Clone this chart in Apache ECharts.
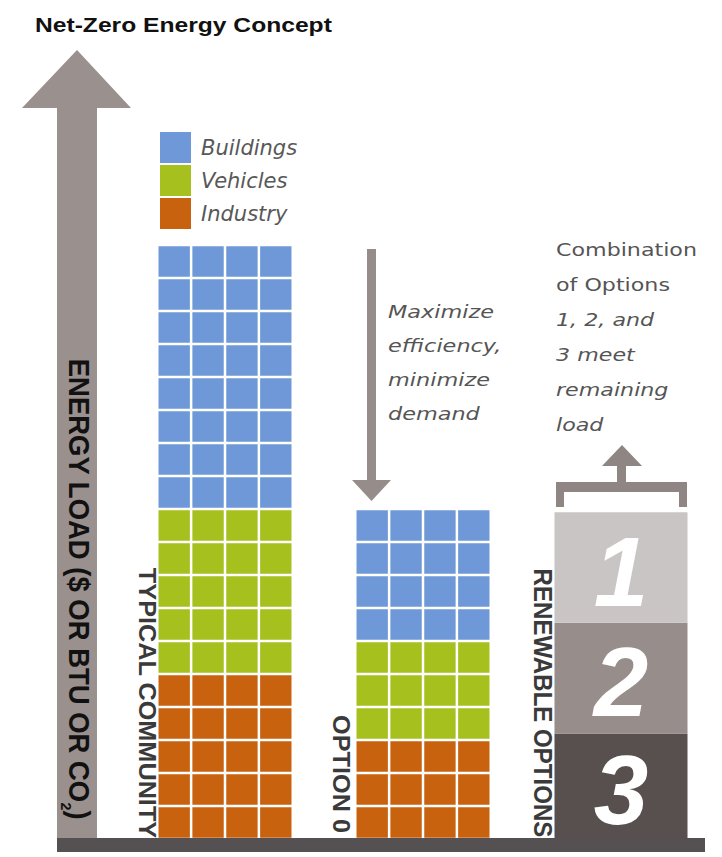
<!DOCTYPE html>
<html>
<head>
<meta charset="utf-8">
<script src="https://cdn.jsdelivr.net/npm/echarts@6/dist/echarts.min.js"></script>
<style>
  html, body { margin: 0; padding: 0; background: #ffffff; }
  #chart { width: 722px; height: 857px; }
</style>
</head>
<body>
<div id="chart"></div>
<script>
// Columns of the concept diagram and their energy load, in tile rows
const columns = ['Typical Community', 'Option 0', 'Renewable Options'];
const industry = [5, 3, 0];
const vehicles = [5, 3, 0];
const buildings = [8, 4, 0];

// Renewable supply stacked in the third column (bottom to top)
const renewableNames = ['3', '2', '1'];
const renewableValues = [3.2, 3.35, 3.35];

const sectorNames = ['Buildings', 'Vehicles', 'Industry'];

// ---- styling ----
const SECTOR_COLORS = { Buildings: '#6e98d7', Vehicles: '#a6c11e', Industry: '#c9620f' };
const RENEWABLE_COLORS = ['#57504f', '#978d8b', '#c9c5c4'];
const ARROW = '#9a908e';
const BAR_W = 133;
const COLS = 4;
const GAP = 2.5;
const SANS = '"Liberation Sans", "DejaVu Sans", sans-serif';
const WIDE = '"DejaVu Sans", "Liberation Sans", sans-serif';

const measureCtx = document.createElement('canvas').getContext('2d');
function textWidth(str, font) {
  measureCtx.font = font;
  return measureCtx.measureText(str).width;
}

// cumulative stacking of sector tiles
function stacked(values, below) {
  return columns.map((c, i) => {
    const lo = below.reduce((s, arr) => s + arr[i], 0);
    return [i, lo, lo + values[i]];
  }).filter(d => d[2] > d[1]);
}

function tiles(params, api) {
  const i = api.value(0), lo = api.value(1), hi = api.value(2);
  const cx = api.coord([i, 0])[0];
  const x0 = cx - BAR_W / 2;
  const cw = (BAR_W - GAP * (COLS - 1)) / COLS;
  const color = api.visual('color');
  const children = [];
  for (let r = lo; r < hi; r++) {
    const yb = api.coord([i, r])[1];
    const yt = api.coord([i, r + 1])[1];
    for (let c = 0; c < COLS; c++) {
      children.push({
        type: 'rect',
        shape: { x: x0 + c * (cw + GAP), y: yt + GAP / 2, width: cw, height: yb - yt - GAP },
        style: { fill: color }
      });
    }
  }
  return { type: 'group', children };
}

let acc = 0;
const renewableData = renewableValues.map(v => {
  const d = [2, acc, acc + v];
  acc += v;
  return d;
});

function blocks(params, api) {
  const i = api.value(0), lo = api.value(1), hi = api.value(2);
  const cx = api.coord([i, 0])[0];
  const yb = api.coord([i, lo])[1];
  const yt = api.coord([i, hi])[1];
  return {
    type: 'group',
    children: [
      { type: 'rect', shape: { x: cx - BAR_W / 2, y: yt, width: BAR_W, height: yb - yt },
        style: { fill: RENEWABLE_COLORS[params.dataIndex] } },
      { type: 'text', x: cx, y: (yt + yb) / 2 + 4,
        style: { text: renewableNames[params.dataIndex], fill: '#ffffff',
                 font: 'italic bold 98px ' + SANS, align: 'center', verticalAlign: 'middle' } }
    ]
  };
}

// vertical labels squeezed to a given length along the text direction
function verticalLabel(text, cx, cy, length, size, color, weight) {
  const font = weight + ' ' + size + 'px ' + SANS;
  const s = length / textWidth(text, font);
  return {
    type: 'text', x: cx, y: cy, rotation: -Math.PI / 2, scaleX: s, scaleY: 1,
    style: { text, font, fill: color, align: 'center', verticalAlign: 'middle' }
  };
}

const energyFont = 'bold 31px ' + SANS;
const energyText = 'ENERGY LOAD ($ OR BTU OR CO)';
const energyScale = 462 / (textWidth(energyText, energyFont) + 10);

const titleFont = 'bold 21px ' + SANS;
const titleText = 'Net-Zero Energy Concept';
const titleScale = 297 / textWidth(titleText, titleFont);

const noteFont = 'italic 18px ' + WIDE;
const noteFontUp = '18px ' + WIDE;
const noteScale = 106 / textWidth('Maximize', noteFont);
const comboScale = 141 / textWidth('Combination', noteFontUp);

const chart = echarts.init(document.getElementById('chart'), null, { renderer: 'svg' });
chart.setOption({
  backgroundColor: '#ffffff',
  animation: false,
  grid: { left: 126, right: 2, top: 14, bottom: 18 },
  xAxis: { type: 'category', data: columns, show: false },
  yAxis: { type: 'value', min: 0, max: 25, show: false },
  legend: {
    data: sectorNames,
    orient: 'vertical',
    left: 160, top: 132,
    padding: 0,
    itemWidth: 31, itemHeight: 31, itemGap: 2,
    icon: 'rect',
    selectedMode: false,
    textStyle: { fontStyle: 'italic', fontSize: 21, color: '#585858', fontFamily: WIDE, padding: [0, 0, 0, 5] }
  },
  series: [
    { name: 'Industry', type: 'custom', renderItem: tiles, itemStyle: { color: SECTOR_COLORS.Industry },
      data: stacked(industry, []) },
    { name: 'Vehicles', type: 'custom', renderItem: tiles, itemStyle: { color: SECTOR_COLORS.Vehicles },
      data: stacked(vehicles, [industry]) },
    { name: 'Buildings', type: 'custom', renderItem: tiles, itemStyle: { color: SECTOR_COLORS.Buildings },
      data: stacked(buildings, [industry, vehicles]) },
    { name: 'Renewables', type: 'custom', renderItem: blocks, data: renewableData }
  ],
  graphic: [
    // title
    { type: 'text', x: 35, y: 25, scaleX: titleScale,
      style: { text: titleText, font: titleFont, fill: '#111111', align: 'left', verticalAlign: 'middle' } },
    // energy load arrow
    { type: 'polygon', z: -1,
      shape: { points: [[22, 108], [77, 50], [131, 108], [97, 108], [97, 840], [57, 840], [57, 108]] },
      style: { fill: ARROW } },
    // ground line
    { type: 'rect', shape: { x: 57, y: 838, width: 648, height: 14 }, style: { fill: '#555052' } },
    // efficiency arrow
    { type: 'rect', shape: { x: 367, y: 249, width: 9, height: 232 }, style: { fill: '#968c8a' } },
    { type: 'polygon', shape: { points: [[352, 480], [391, 480], [371.5, 501]] }, style: { fill: '#968c8a' } },
    // bracket over renewable options
    { type: 'polygon',
      shape: { points: [[556, 507], [556, 482], [617, 482], [617, 466], [602, 466], [622, 445], [642, 466],
                        [626, 466], [626, 482], [687, 482], [687, 507], [679, 507], [679, 492], [564, 492], [564, 507]] },
      style: { fill: '#8f8583' } },
    // annotations
    { type: 'text', x: 388, y: 295, scaleX: noteScale,
      style: { text: 'Maximize\nefficiency,\nminimize\ndemand', font: noteFont,
               lineHeight: 34, fill: '#555555', align: 'left', verticalAlign: 'top' } },
    { type: 'text', x: 556, y: 232, scaleX: comboScale,
      style: { text: '{n|Combination}\n{n|of Options}\n{i|1, 2, and}\n{i|3 meet}\n{i|remaining}\n{i|load}',
               align: 'left', verticalAlign: 'top',
               rich: {
                 n: { font: noteFontUp, lineHeight: 35, fill: '#555555' },
                 i: { font: noteFont, lineHeight: 35, fill: '#555555' }
               } } },
    // vertical labels
    { type: 'text', x: 79, y: 589, rotation: -Math.PI / 2, scaleX: energyScale, scaleY: 0.95,
      style: {
        text: '{a|' + energyText.slice(0, -1) + '}{s|2}{a|)}',
        align: 'center', verticalAlign: 'middle',
        rich: {
          a: { font: energyFont, fill: '#111111', lineHeight: 30 },
          s: { font: 'bold 16px ' + SANS, fill: '#111111', lineHeight: 44, verticalAlign: 'bottom' }
        }
      } },
    verticalLabel('TYPICAL COMMUNITY', 147, 703, 271, 24, '#3a3a3a', 'bold'),
    verticalLabel('OPTION 0', 341, 774, 118, 24, '#3a3a3a', 'bold'),
    verticalLabel('RENEWABLE OPTIONS', 543, 703, 269, 26, '#3a3a3a', 'bold')
  ]
});
</script>
</body>
</html>
